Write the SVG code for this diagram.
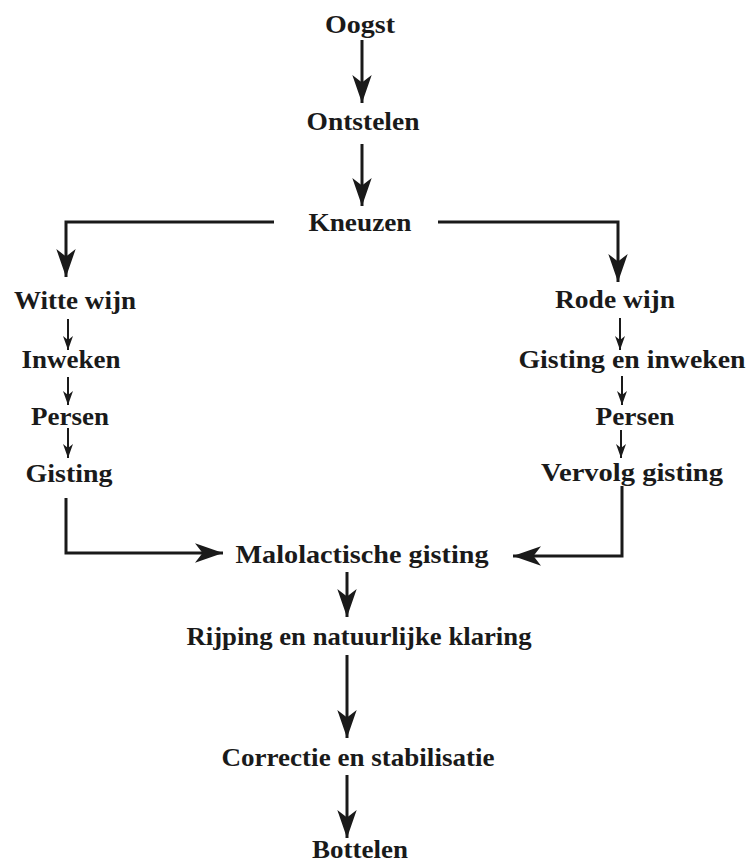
<svg xmlns="http://www.w3.org/2000/svg" width="747" height="862" viewBox="0 0 747 862">
<defs>
<style>
text{font-family:"Liberation Serif","Times New Roman",serif;font-weight:bold;font-size:25px;fill:#1a1a1a;text-anchor:middle}
.c{fill:none;stroke:#1a1a1a}
.big{stroke-width:3}
.sm{stroke-width:2}
</style>
<marker id="ab" markerUnits="userSpaceOnUse" markerWidth="28" markerHeight="20" refX="26" refY="9" orient="auto" viewBox="0 0 26 18">
<path d="M0,0 L26,9 L0,18 L7,9 Z" fill="#1a1a1a"/>
</marker>
<marker id="as" markerUnits="userSpaceOnUse" markerWidth="14" markerHeight="11" refX="14" refY="5" orient="auto" viewBox="0 0 14 10">
<path d="M0,0 L14,5 L0,10 L4,5 Z" fill="#1a1a1a"/>
</marker>
</defs>
<rect width="747" height="862" fill="#fff"/>
<g id="connectors">
<path class="c big" d="M362,40 V103" marker-end="url(#ab)"/>
<path class="c big" d="M362,144 V206" marker-end="url(#ab)"/>
<path class="c big" d="M274,222 H66 V277" marker-end="url(#ab)"/>
<path class="c big" d="M438,222 H618 V282" marker-end="url(#ab)"/>
<path class="c sm" d="M68,319 V350" marker-end="url(#as)"/>
<path class="c sm" d="M68,377 V405" marker-end="url(#as)"/>
<path class="c sm" d="M68,428 V458" marker-end="url(#as)"/>
<path class="c sm" d="M620,318 V350" marker-end="url(#as)"/>
<path class="c sm" d="M622,376 V405" marker-end="url(#as)"/>
<path class="c sm" d="M621,430 V458" marker-end="url(#as)"/>
<path class="c big" d="M66,498 V553 H223" marker-end="url(#ab)"/>
<path class="c big" d="M622,486 V556 H513" marker-end="url(#ab)"/>
<path class="c big" d="M347,572 V617" marker-end="url(#ab)"/>
<path class="c big" d="M347,655 V738" marker-end="url(#ab)"/>
<path class="c big" d="M347,775 V838" marker-end="url(#ab)"/>
</g>
<g id="n-oogst"><text x="360" y="33" textLength="70" lengthAdjust="spacingAndGlyphs">Oogst</text></g>
<g id="n-ontstelen"><text x="363" y="130" textLength="113" lengthAdjust="spacingAndGlyphs">Ontstelen</text></g>
<g id="n-kneuzen"><text x="360" y="231" textLength="103" lengthAdjust="spacingAndGlyphs">Kneuzen</text></g>
<g id="n-witte"><text x="75" y="309" textLength="122" lengthAdjust="spacingAndGlyphs">Witte wijn</text></g>
<g id="n-inweken"><text x="71" y="368" textLength="99" lengthAdjust="spacingAndGlyphs">Inweken</text></g>
<g id="n-persen-l"><text x="70" y="425" textLength="78" lengthAdjust="spacingAndGlyphs">Persen</text></g>
<g id="n-gisting-l"><text x="69" y="482" textLength="87" lengthAdjust="spacingAndGlyphs">Gisting</text></g>
<g id="n-rode"><text x="615" y="308" textLength="120" lengthAdjust="spacingAndGlyphs">Rode wijn</text></g>
<g id="n-gisting-inweken"><text x="632" y="368" textLength="227" lengthAdjust="spacingAndGlyphs">Gisting en inweken</text></g>
<g id="n-persen-r"><text x="635" y="425" textLength="79" lengthAdjust="spacingAndGlyphs">Persen</text></g>
<g id="n-vervolg"><text x="632" y="481" textLength="182" lengthAdjust="spacingAndGlyphs">Vervolg gisting</text></g>
<g id="n-malolactische"><text x="362" y="563" textLength="253" lengthAdjust="spacingAndGlyphs">Malolactische gisting</text></g>
<g id="n-rijping"><text x="359" y="645" textLength="345" lengthAdjust="spacingAndGlyphs">Rijping en natuurlijke klaring</text></g>
<g id="n-correctie"><text x="358" y="766" textLength="273" lengthAdjust="spacingAndGlyphs">Correctie en stabilisatie</text></g>
<g id="n-bottelen"><text x="360" y="858" textLength="96" lengthAdjust="spacingAndGlyphs">Bottelen</text></g>
</svg>
